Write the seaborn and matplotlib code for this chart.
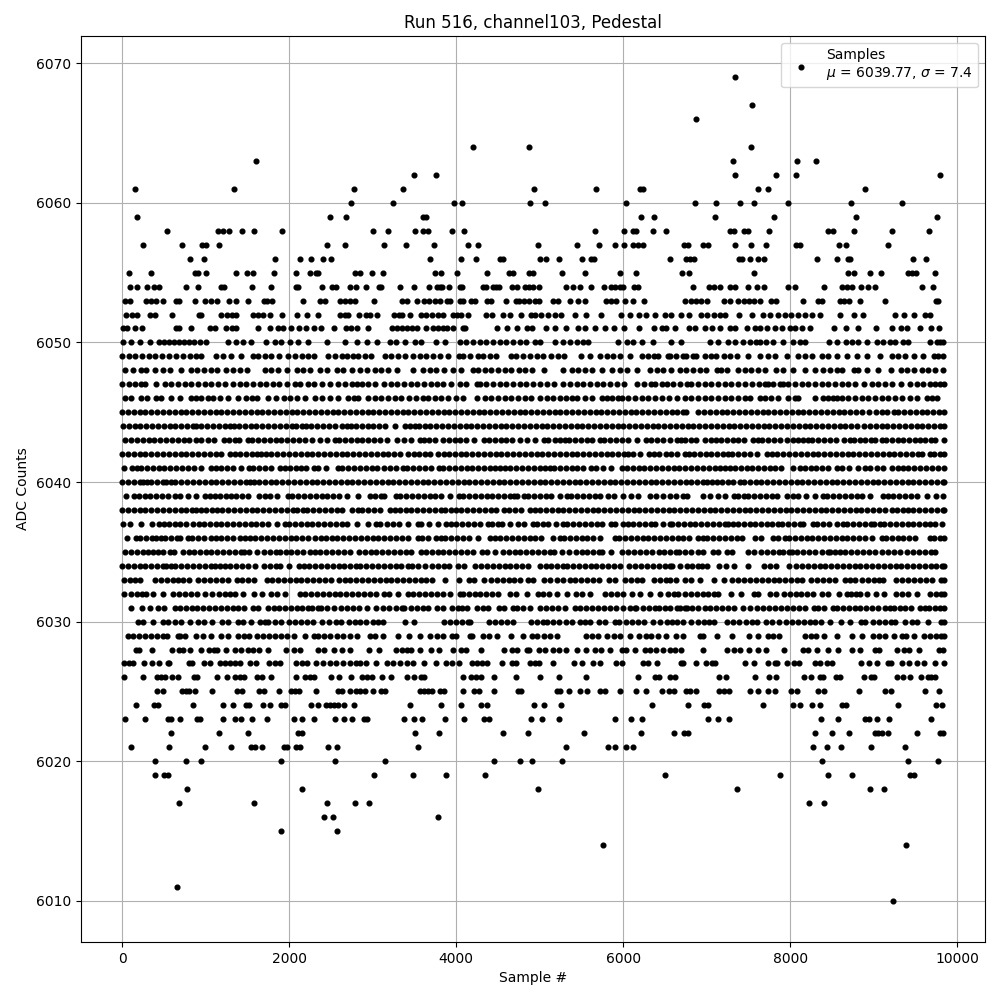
import matplotlib
matplotlib.use("Agg")
import matplotlib.pyplot as plt
import pandas as pd
import seaborn as sns

TITLE = "Run 516, channel103, Pedestal"
XLABEL = "Sample #"
YLABEL = "ADC Counts"
LEGEND = "Samples\n$\\mu$ = 6039.77, $\\sigma$ = 7.4"

# Sample numbers for each ADC level (estimates in the dense rows).
s6069 = [7345]
s6067 = [7548]
s6066 = [6878]
s6064 = [4205, 4877, 7537]
s6063 = [1601, 7321, 8087, 8314]
s6062 = [3497, 3761, 7345, 7836, 8075, 9799]
s6061 = [149, 1345, 2781, 3367, 4935, 5681, 6208, 6240, 7612, 7740, 8901]
s6060 = [2745, 3248, 3978, 4074, 4888, 5059, 6040, 6866, 7117, 7404, 7572, 7979, 8733, 9344]
s6059 = [184, 2493, 2685, 3603, 3635, 6220, 6375, 7105, 7812, 8793, 9763]
s6058 = [543, 1149, 1213, 1277, 1440, 1584, 1919, 3008, 3188, 3511, 3607, 3659, 3955, 4099, 5669, 6016, 6124, 6160, 6363, 6519, 7285, 7333, 7453, 7493, 7752, 8458, 8518, 8769, 9224, 9667]
s6057 = [255, 722, 962, 1010, 1165, 2458, 2674, 3141, 3405, 3740, 4146, 4266, 4983, 5442, 5717, 5909, 6016, 6124, 6184, 6240, 6734, 6774, 6962, 7022, 7341, 7537, 7716, 8071, 8123, 8590, 8674, 9176]
s6056 = [818, 986, 1835, 2134, 2266, 2410, 2506, 3691, 4062, 4242, 4525, 4560, 5007, 5079, 5238, 5513, 5621, 5657, 6567, 6754, 6806, 6854, 7393, 7425, 7517, 7620, 7692, 8326, 8566, 8690, 8722, 9475, 9631]
s6055 = [88, 351, 878, 914, 1010, 1369, 1500, 1572, 1823, 2087, 2254, 2326, 2350, 2793, 2853, 2997, 3127, 3751, 3823, 4014, 4374, 4633, 4681, 4873, 4921, 5274, 5549, 5968, 6160, 6711, 6794, 7572, 8698, 8761, 8961, 9093, 9416, 9464, 9512, 9739]
s6054 = [89, 173, 293, 377, 437, 761, 905, 1181, 1217, 1553, 1781, 2081, 2105, 2393, 2513, 2561, 2729, 2801, 2921, 3077, 3101, 3329, 3497, 3677, 3773, 3809, 3833, 3917, 4049, 4073, 4325, 4361, 4445, 4481, 4517, 4669, 4729, 4829, 4877, 4925, 4997, 5319, 5399, 5479, 5611, 5767, 5851, 5899, 5959, 5999, 6127, 6179, 6835, 7027, 7087, 7159, 7279, 7339, 7495, 7603, 7687, 7975, 8059, 8407, 8623, 8683, 8743, 8851, 8935, 9019, 9583, 9715]
s6053 = [29, 89, 281, 341, 401, 485, 641, 677, 869, 989, 1061, 1133, 1277, 1361, 1505, 1697, 1733, 1793, 2165, 2369, 2429, 2609, 2669, 2729, 2789, 3017, 3353, 3413, 3533, 3617, 3677, 3749, 3809, 3893, 3929, 4049, 4085, 4181, 4229, 4373, 4421, 4601, 4721, 4757, 4809, 4869, 4939, 4997, 5159, 5219, 5359, 5455, 5539, 5791, 5851, 5911, 6019, 6115, 6247, 6747, 6811, 6871, 6931, 7003, 7207, 7279, 7375, 7447, 7507, 7567, 7639, 7771, 7831, 8155, 8335, 8383, 8599, 8647, 8707, 8839, 9139, 9751, 9775]
s6052 = [41, 113, 173, 329, 389, 593, 917, 941, 1181, 1253, 1313, 1361, 1565, 1625, 1685, 1769, 1913, 2093, 2213, 2345, 2609, 2669, 2705, 2837, 2921, 2969, 3053, 3257, 3317, 3353, 3449, 3581, 3641, 3713, 3785, 3845, 3965, 4013, 4061, 4145, 4361, 4433, 4565, 4649, 4781, 4901, 4949, 5019, 5099, 5179, 5259, 5419, 5559, 5739, 5971, 6079, 6187, 6271, 6379, 6499, 6571, 6691, 6787, 6931, 7003, 7087, 7159, 7219, 7387, 7543, 7675, 7759, 7859, 7939, 8011, 8095, 8179, 8259, 8359, 8599, 8763, 8875, 9259, 9367, 9487, 9619, 9679]
s6051 = [9, 57, 149, 233, 641, 677, 821, 1049, 1109, 1241, 1313, 1361, 1625, 1769, 1865, 1925, 2021, 2117, 2201, 2297, 2381, 2537, 2681, 2741, 2813, 2945, 3233, 3293, 3353, 3413, 3473, 3533, 3641, 3725, 3785, 3845, 3893, 3965, 4085, 4109, 4493, 4613, 4733, 4853, 4913, 5071, 5179, 5311, 5455, 5539, 5659, 5779, 5887, 6007, 6191, 6367, 6463, 6511, 6619, 6787, 6859, 6979, 7063, 7159, 7279, 7339, 7483, 7579, 7639, 7723, 7819, 7899, 7999, 8059, 8139, 8239, 8527, 8671, 8815, 9031, 9223, 9331, 9403, 9559, 9691, 9787]
s6050 = [9, 109, 209, 329, 437, 497, 557, 617, 677, 737, 797, 857, 930, 1000, 1269, 1369, 1449, 1549, 1729, 1829, 1909, 2009, 2109, 2229, 2449, 2669, 2809, 2929, 3049, 3203, 3283, 3383, 3503, 3583, 3763, 3863, 4043, 4123, 4203, 4283, 4363, 4443, 4523, 4603, 4683, 4763, 4843, 4943, 5003, 5183, 5283, 5363, 5443, 5523, 5583, 5943, 6043, 6123, 6223, 6363, 6577, 6697, 7037, 7137, 7257, 7337, 7437, 7517, 7597, 7637, 7717, 7797, 7917, 8037, 8117, 8177, 8465, 8565, 8665, 8737, 8817, 8917, 9037, 9117, 9197, 9257, 9357, 9417, 9677, 9757, 9800, 9835]
s6049 = [0, 80, 160, 240, 320, 400, 480, 560, 649, 729, 809, 889, 950, 1129, 1209, 1309, 1421, 1569, 1629, 1709, 1789, 1880, 1989, 2069, 2149, 2229, 2300, 2469, 2549, 2629, 2689, 2769, 2830, 2909, 2980, 3143, 3223, 3303, 3383, 3480, 3563, 3643, 3723, 3803, 3900, 4031, 4083, 4163, 4260, 4323, 4403, 4483, 4663, 4723, 4800, 4883, 4963, 5043, 5140, 5223, 5290, 5495, 5603, 5723, 5803, 5883, 5963, 6080, 6223, 6303, 6370, 6423, 6543, 6557, 6637, 6717, 6757, 6837, 6877, 6977, 7057, 7117, 7205, 7285, 7365, 7500, 7637, 7737, 7817, 7960, 8097, 8177, 8257, 8377, 8457, 8557, 8677, 8797, 8920, 9077, 9220, 9297, 9377, 9480, 9597, 9720, 9777, 9835]
s6048 = [29, 129, 229, 289, 389, 489, 569, 709, 821, 901, 981, 1061, 1141, 1250, 1329, 1409, 1490, 1709, 1789, 1869, 1970, 2089, 2169, 2249, 2370, 2449, 2569, 2649, 2750, 2849, 2929, 3030, 3103, 3183, 3295, 3483, 3603, 3683, 3763, 3850, 3963, 4063, 4203, 4263, 4343, 4423, 4503, 4583, 4663, 4750, 4823, 4910, 5051, 5283, 5390, 5463, 5543, 5630, 5743, 5863, 5963, 6043, 6163, 6323, 6403, 6483, 6570, 6677, 6757, 6837, 6917, 6997, 7120, 7177, 7240, 7377, 7457, 7537, 7617, 7700, 7837, 7917, 8040, 8177, 8297, 8397, 8477, 8557, 8617, 8760, 8817, 8920, 9057, 9209, 9329, 9405, 9485, 9577, 9657, 9737, 9835]
s6047 = [0, 80, 160, 229, 269, 409, 509, 589, 669, 749, 829, 909, 989, 1069, 1149, 1229, 1329, 1410, 1489, 1569, 1649, 1729, 1809, 1880, 1980, 2070, 2129, 2229, 2300, 2389, 2490, 2589, 2669, 2749, 2810, 2869, 2950, 3030, 3135, 3215, 3295, 3375, 3455, 3535, 3615, 3700, 3770, 3843, 3943, 4043, 4123, 4250, 4283, 4363, 4443, 4523, 4603, 4683, 4763, 4843, 4923, 5003, 5090, 5170, 5283, 5363, 5443, 5523, 5603, 5683, 5763, 5843, 5930, 6010, 6163, 6250, 6330, 6383, 6470, 6523, 6597, 6680, 6760, 6817, 6897, 6977, 7057, 7137, 7217, 7297, 7377, 7457, 7540, 7630, 7700, 7737, 7800, 7877, 7917, 7977, 8057, 8137, 8217, 8297, 8377, 8457, 8537, 8617, 8697, 8777, 8890, 8980, 9057, 9137, 9217, 9330, 9440, 9517, 9597, 9680, 9740, 9797, 9840]
s6046 = [29, 109, 229, 300, 409, 469, 589, 690, 829, 890, 949, 1029, 1090, 1169, 1270, 1389, 1489, 1560, 1610, 1749, 1849, 1940, 2010, 2089, 2189, 2309, 2400, 2490, 2589, 2709, 2780, 2830, 2949, 3030, 3103, 3183, 3263, 3343, 3440, 3525, 3603, 3663, 3743, 3823, 3903, 4000, 4085, 4250, 4343, 4423, 4503, 4583, 4663, 4743, 4823, 4903, 5005, 5083, 5163, 5243, 5320, 5385, 5443, 5540, 5625, 5743, 5810, 5865, 5943, 5990, 6063, 6143, 6223, 6303, 6383, 6470, 6545, 6650, 6737, 6817, 6897, 6977, 7057, 7137, 7217, 7297, 7380, 7460, 7520, 7637, 7697, 7777, 7857, 7980, 8057, 8100, 8297, 8397, 8449, 8517, 8560, 8617, 8697, 8777, 8857, 8937, 9017, 9097, 9177, 9257, 9337, 9440, 9520, 9637, 9700, 9760]
s6045 = [0, 70, 140, 210, 280, 350, 420, 490, 560, 630, 700, 770, 840, 910, 980, 1050, 1120, 1190, 1260, 1330, 1400, 1470, 1540, 1610, 1680, 1750, 1820, 1890, 1960, 2030, 2100, 2170, 2240, 2310, 2380, 2450, 2520, 2590, 2660, 2730, 2800, 2870, 2940, 3010, 3080, 3150, 3220, 3290, 3360, 3430, 3500, 3570, 3640, 3710, 3780, 3850, 3920, 3990, 4060, 4130, 4200, 4270, 4340, 4410, 4480, 4550, 4620, 4690, 4760, 4830, 4900, 4970, 5040, 5110, 5180, 5250, 5320, 5390, 5460, 5530, 5600, 5670, 5740, 5810, 5880, 5950, 6020, 6090, 6160, 6230, 6300, 6370, 6440, 6510, 6580, 6650, 6720, 6750, 6900, 6970, 7040, 7110, 7180, 7250, 7320, 7390, 7460, 7530, 7600, 7670, 7740, 7810, 7880, 7950, 8020, 8090, 8160, 8230, 8300, 8370, 8440, 8510, 8580, 8650, 8720, 8790, 8860, 8950, 9030, 9100, 9160, 9240, 9295, 9365, 9435, 9505, 9575, 9645, 9715, 9785, 9842]
s6044 = [9, 79, 149, 219, 289, 359, 429, 499, 569, 639, 709, 779, 849, 880, 949, 1019, 1089, 1159, 1229, 1290, 1345, 1399, 1469, 1539, 1609, 1679, 1749, 1819, 1889, 1959, 2030, 2085, 2149, 2197, 2267, 2337, 2407, 2477, 2550, 2630, 2690, 2745, 2799, 2869, 2939, 3009, 3079, 3149, 3265, 3385, 3445, 3505, 3553, 3623, 3693, 3763, 3833, 3903, 3973, 4043, 4113, 4183, 4253, 4323, 4393, 4463, 4533, 4603, 4673, 4743, 4813, 4883, 4953, 5023, 5093, 5163, 5233, 5303, 5373, 5443, 5513, 5583, 5653, 5723, 5793, 5863, 5933, 6003, 6073, 6143, 6213, 6283, 6353, 6423, 6493, 6563, 6633, 6703, 6773, 6843, 6913, 6983, 7053, 7123, 7193, 7263, 7333, 7403, 7473, 7543, 7613, 7683, 7753, 7823, 7893, 7963, 8033, 8103, 8173, 8243, 8313, 8383, 8453, 8523, 8593, 8663, 8733, 8803, 8885, 8955, 9025, 9095, 9165, 9235, 9305, 9375, 9445, 9515, 9585, 9655, 9725, 9795, 9842]
s6043 = [37, 107, 177, 247, 317, 387, 457, 527, 597, 667, 745, 805, 885, 949, 1029, 1095, 1225, 1279, 1349, 1395, 1505, 1559, 1629, 1699, 1769, 1839, 1909, 1979, 2049, 2119, 2189, 2270, 2375, 2450, 2545, 2599, 2669, 2739, 2809, 2879, 2949, 3019, 3089, 3170, 3290, 3375, 3460, 3570, 3620, 3673, 3743, 3845, 3920, 3983, 4045, 4120, 4220, 4330, 4391, 4463, 4533, 4603, 4673, 4765, 4855, 4950, 5050, 5105, 5183, 5250, 5300, 5353, 5423, 5493, 5563, 5630, 5720, 5773, 5843, 5913, 5983, 6053, 6170, 6280, 6333, 6403, 6473, 6565, 6640, 6690, 6739, 6809, 6879, 6980, 7055, 7107, 7177, 7247, 7320, 7380, 7445, 7560, 7615, 7667, 7737, 7807, 7877, 7960, 8035, 8097, 8160, 8215, 8267, 8337, 8407, 8477, 8547, 8640, 8715, 8767, 8837, 8900, 8965, 9017, 9095, 9147, 9217, 9287, 9357, 9427, 9497, 9560, 9617, 9690, 9730, 9842]
s6042 = [0, 70, 140, 210, 280, 350, 420, 490, 560, 630, 700, 770, 840, 910, 980, 1050, 1120, 1190, 1295, 1347, 1417, 1487, 1557, 1610, 1665, 1719, 1789, 1859, 1929, 1999, 2069, 2139, 2209, 2279, 2349, 2419, 2489, 2559, 2629, 2699, 2769, 2839, 2909, 2979, 3049, 3119, 3189, 3259, 3329, 3425, 3500, 3553, 3623, 3693, 3785, 3860, 3913, 3983, 4053, 4123, 4193, 4263, 4333, 4403, 4473, 4543, 4613, 4683, 4753, 4823, 4893, 4963, 5033, 5103, 5173, 5243, 5313, 5383, 5453, 5523, 5593, 5663, 5733, 5803, 5873, 5943, 6005, 6060, 6113, 6205, 6310, 6365, 6425, 6510, 6570, 6640, 6740, 6795, 6847, 6917, 6987, 7057, 7127, 7200, 7255, 7307, 7377, 7447, 7520, 7605, 7725, 7779, 7849, 7919, 7989, 8059, 8129, 8199, 8269, 8339, 8409, 8479, 8549, 8619, 8689, 8759, 8829, 8899, 8969, 9039, 9109, 9179, 9249, 9319, 9389, 9459, 9529, 9580, 9675, 9727, 9797, 9842]
s6041 = [25, 115, 175, 227, 297, 367, 437, 507, 577, 647, 717, 787, 857, 950, 1065, 1119, 1189, 1259, 1329, 1430, 1520, 1571, 1641, 1711, 1781, 1890, 1955, 2007, 2077, 2147, 2205, 2295, 2347, 2445, 2585, 2639, 2709, 2779, 2849, 2919, 2989, 3050, 3140, 3213, 3285, 3360, 3413, 3483, 3553, 3623, 3705, 3790, 3845, 3915, 3985, 4055, 4125, 4195, 4265, 4335, 4405, 4465, 4530, 4581, 4651, 4721, 4791, 4861, 4931, 5001, 5065, 5120, 5173, 5243, 5313, 5383, 5453, 5523, 5615, 5670, 5765, 5851, 5990, 6045, 6115, 6185, 6255, 6325, 6395, 6465, 6535, 6605, 6675, 6745, 6815, 6885, 6955, 7025, 7095, 7165, 7220, 7285, 7339, 7409, 7479, 7549, 7619, 7689, 7759, 7820, 7895, 8040, 8120, 8175, 8245, 8315, 8385, 8455, 8560, 8620, 8700, 8810, 8895, 8960, 9040, 9110, 9217, 9295, 9347, 9417, 9487, 9557, 9627, 9697, 9767, 9842]
s6040 = [0, 70, 140, 210, 245, 295, 347, 417, 487, 530, 585, 639, 709, 779, 849, 919, 989, 1059, 1129, 1199, 1269, 1339, 1409, 1479, 1530, 1585, 1639, 1709, 1779, 1849, 1919, 1989, 2059, 2129, 2199, 2269, 2339, 2409, 2479, 2549, 2619, 2689, 2759, 2829, 2899, 2969, 3039, 3109, 3179, 3249, 3319, 3389, 3459, 3529, 3599, 3669, 3739, 3809, 3879, 3949, 4019, 4089, 4159, 4229, 4299, 4369, 4439, 4509, 4579, 4649, 4719, 4789, 4859, 4929, 4999, 5069, 5139, 5209, 5279, 5349, 5419, 5489, 5559, 5629, 5699, 5769, 5839, 5909, 5979, 6049, 6119, 6189, 6259, 6329, 6399, 6469, 6539, 6609, 6679, 6749, 6819, 6889, 6959, 7010, 7065, 7119, 7189, 7259, 7320, 7395, 7447, 7517, 7587, 7657, 7727, 7797, 7867, 7937, 8007, 8077, 8147, 8217, 8287, 8357, 8427, 8497, 8567, 8637, 8707, 8777, 8847, 8917, 8987, 9057, 9127, 9197, 9267, 9337, 9407, 9477, 9547, 9617, 9687, 9757, 9827, 9842]
s6039 = [49, 145, 199, 269, 339, 409, 479, 549, 635, 695, 795, 881, 995, 1047, 1117, 1170, 1245, 1299, 1369, 1439, 1510, 1641, 1710, 1775, 1860, 1985, 2039, 2109, 2179, 2249, 2319, 2389, 2459, 2529, 2599, 2690, 2821, 2965, 3029, 3105, 3135, 3280, 3333, 3403, 3473, 3543, 3613, 3683, 3745, 3815, 3931, 4030, 4085, 4155, 4225, 4295, 4365, 4435, 4505, 4575, 4645, 4690, 4735, 4810, 4861, 4931, 5001, 5071, 5141, 5245, 5330, 5381, 5451, 5521, 5591, 5661, 5725, 5815, 5891, 6003, 6095, 6180, 6325, 6391, 6475, 6560, 6629, 6717, 6765, 6955, 7040, 7137, 7225, 7330, 7375, 7445, 7499, 7569, 7639, 7709, 7779, 7849, 7960, 8037, 8097, 8195, 8300, 8395, 8447, 8517, 8587, 8657, 8727, 8797, 8867, 8960, 9115, 9167, 9237, 9307, 9377, 9447, 9517, 9640, 9749, 9835]
s6038 = [0, 70, 140, 210, 280, 350, 420, 490, 560, 630, 700, 770, 840, 890, 945, 1010, 1080, 1131, 1201, 1271, 1341, 1411, 1481, 1551, 1621, 1691, 1761, 1831, 1901, 1971, 2041, 2090, 2165, 2219, 2289, 2359, 2429, 2499, 2569, 2639, 2750, 2825, 2879, 2949, 3019, 3090, 3205, 3270, 3325, 3395, 3465, 3535, 3605, 3675, 3745, 3815, 3865, 3940, 3993, 4063, 4133, 4203, 4273, 4343, 4413, 4483, 4570, 4633, 4703, 4773, 4885, 4950, 5005, 5075, 5145, 5215, 5285, 5355, 5425, 5495, 5565, 5635, 5705, 5775, 5845, 5915, 5985, 6055, 6125, 6195, 6265, 6335, 6405, 6475, 6545, 6615, 6685, 6755, 6825, 6895, 6965, 7035, 7105, 7175, 7245, 7315, 7385, 7455, 7525, 7595, 7665, 7735, 7805, 7875, 7945, 8015, 8085, 8155, 8225, 8295, 8365, 8435, 8505, 8575, 8645, 8715, 8785, 8855, 8925, 8995, 9065, 9135, 9220, 9277, 9355, 9407, 9477, 9547, 9617, 9687, 9757, 9827, 9842]
s6037 = [16, 95, 225, 355, 437, 505, 559, 629, 699, 769, 850, 925, 979, 1049, 1119, 1189, 1259, 1329, 1399, 1469, 1539, 1609, 1679, 1749, 1850, 1945, 1999, 2069, 2139, 2209, 2279, 2349, 2419, 2489, 2559, 2629, 2699, 2810, 2941, 3037, 3090, 3173, 3243, 3313, 3425, 3540, 3585, 3680, 3785, 3880, 3933, 4003, 4073, 4143, 4213, 4285, 4380, 4433, 4503, 4545, 4640, 4745, 4815, 4920, 4965, 5043, 5100, 5195, 5280, 5333, 5403, 5473, 5543, 5613, 5683, 5745, 5860, 5905, 6000, 6053, 6123, 6193, 6263, 6333, 6385, 6480, 6565, 6587, 6657, 6727, 6797, 6867, 6937, 7007, 7077, 7147, 7217, 7260, 7320, 7375, 7445, 7515, 7585, 7655, 7725, 7780, 7855, 7907, 7977, 8047, 8117, 8160, 8275, 8327, 8397, 8467, 8560, 8635, 8687, 8757, 8827, 8900, 8970, 9000, 9075, 9127, 9197, 9267, 9337, 9407, 9477, 9547, 9617, 9680, 9737, 9825]
s6036 = [57, 165, 219, 289, 359, 405, 465, 519, 589, 659, 695, 785, 839, 909, 979, 1065, 1119, 1189, 1259, 1329, 1410, 1475, 1527, 1597, 1667, 1737, 1807, 1877, 1947, 2017, 2087, 2157, 2227, 2310, 2385, 2439, 2509, 2579, 2649, 2719, 2789, 2859, 2929, 2999, 3069, 3139, 3209, 3279, 3349, 3425, 3540, 3593, 3663, 3765, 3820, 3873, 3943, 4013, 4083, 4153, 4265, 4405, 4461, 4531, 4601, 4671, 4741, 4811, 4881, 4945, 5020, 5165, 5240, 5293, 5363, 5433, 5503, 5573, 5643, 5725, 5900, 5953, 6023, 6093, 6163, 6233, 6303, 6373, 6443, 6513, 6583, 6653, 6723, 6793, 6900, 6955, 7007, 7077, 7147, 7217, 7287, 7360, 7420, 7580, 7655, 7800, 7857, 7935, 7987, 8057, 8127, 8197, 8267, 8337, 8407, 8477, 8547, 8617, 8687, 8757, 8827, 8897, 8980, 9095, 9147, 9217, 9287, 9357, 9427, 9500, 9675, 9727, 9797, 9840]
s6035 = [30, 105, 175, 245, 315, 365, 435, 485, 575, 625, 735, 805, 859, 929, 999, 1069, 1139, 1209, 1279, 1349, 1420, 1460, 1517, 1612, 1705, 1775, 1845, 1893, 1957, 2027, 2097, 2167, 2253, 2305, 2375, 2445, 2515, 2585, 2655, 2725, 2833, 2905, 2975, 3045, 3115, 3185, 3255, 3325, 3400, 3460, 3585, 3640, 3710, 3780, 3847, 3920, 3990, 4060, 4127, 4200, 4305, 4368, 4467, 4560, 4630, 4700, 4770, 4840, 4910, 4980, 5050, 5120, 5167, 5263, 5355, 5432, 5502, 5572, 5642, 5712, 5747, 5855, 5992, 6062, 6132, 6202, 6272, 6342, 6427, 6492, 6567, 6633, 6675, 6745, 6815, 6900, 6955, 7080, 7135, 7240, 7302, 7500, 7565, 7655, 7725, 7795, 7865, 7920, 7982, 8020, 8086, 8156, 8226, 8296, 8380, 8455, 8480, 8542, 8600, 8662, 8732, 8802, 8872, 8942, 9012, 9100, 9175, 9245, 9315, 9400, 9475, 9545, 9615, 9685, 9740]
s6034 = [0, 70, 140, 210, 280, 350, 420, 490, 525, 585, 639, 709, 779, 849, 919, 989, 1059, 1112, 1173, 1227, 1297, 1367, 1437, 1507, 1590, 1705, 1775, 1845, 1893, 1993, 2113, 2173, 2243, 2313, 2383, 2453, 2523, 2593, 2663, 2733, 2800, 2853, 2925, 2995, 3065, 3135, 3205, 3275, 3345, 3425, 3472, 3547, 3623, 3711, 3781, 3851, 3921, 4027, 4100, 4227, 4300, 4367, 4440, 4510, 4580, 4650, 4720, 4790, 4860, 4999, 5072, 5142, 5212, 5282, 5327, 5400, 5470, 5540, 5610, 5680, 5750, 5820, 5890, 5960, 6067, 6148, 6218, 6288, 6358, 6428, 6498, 6567, 6590, 6685, 6761, 6829, 6893, 6941, 7005, 7149, 7229, 7333, 7501, 7693, 7763, 7833, 7981, 8073, 8143, 8213, 8283, 8353, 8423, 8493, 8563, 8633, 8703, 8773, 8843, 8913, 8983, 9053, 9123, 9193, 9263, 9333, 9403, 9473, 9543, 9613, 9683, 9753, 9823, 9842]
s6033 = [25, 93, 153, 213, 393, 465, 535, 605, 675, 733, 797, 913, 985, 1055, 1125, 1195, 1265, 1373, 1437, 1513, 1585, 1733, 1797, 1867, 1937, 2007, 2077, 2147, 2217, 2287, 2357, 2427, 2497, 2593, 2665, 2735, 2805, 2875, 2945, 3015, 3085, 3155, 3225, 3295, 3365, 3435, 3505, 3575, 3645, 3715, 3867, 4031, 4151, 4220, 4335, 4419, 4489, 4559, 4629, 4699, 4769, 4867, 4923, 5047, 5127, 5211, 5283, 5359, 5429, 5499, 5569, 5639, 5715, 5827, 5907, 6027, 6097, 6167, 6227, 6371, 6441, 6511, 6565, 6635, 6741, 6817, 6917, 7085, 7205, 7301, 7373, 7453, 7523, 7593, 7663, 7733, 7803, 7873, 7943, 8013, 8083, 8141, 8249, 8325, 8395, 8465, 8533, 8653, 8723, 8781, 8865, 8935, 9005, 9061, 9117, 9273, 9343, 9413, 9483, 9553, 9623, 9701, 9813, 9842]
s6032 = [25, 105, 173, 237, 289, 373, 493, 613, 683, 753, 823, 893, 993, 1077, 1157, 1227, 1297, 1353, 1449, 1585, 1673, 1785, 1855, 1953, 2125, 2195, 2265, 2335, 2405, 2475, 2545, 2615, 2685, 2755, 2825, 2895, 2965, 3035, 3131, 3201, 3307, 3419, 3489, 3559, 3629, 3699, 3769, 3839, 3927, 4043, 4083, 4151, 4221, 4291, 4361, 4431, 4507, 4643, 4719, 4847, 4979, 5040, 5107, 5203, 5323, 5439, 5507, 5603, 5783, 5859, 5929, 5999, 6107, 6199, 6327, 6443, 6535, 6613, 6661, 6741, 6811, 6881, 6951, 7021, 7091, 7141, 7293, 7413, 7565, 7621, 7765, 7829, 7925, 7995, 8065, 8135, 8205, 8275, 8381, 8457, 8585, 8681, 8733, 8793, 8841, 8917, 9033, 9121, 9273, 9343, 9413, 9521, 9673, 9743, 9813, 9842]
s6031 = [105, 233, 329, 429, 505, 633, 693, 763, 833, 903, 973, 1043, 1113, 1183, 1253, 1323, 1393, 1463, 1573, 1625, 1745, 1815, 1885, 1955, 2025, 2095, 2153, 2225, 2273, 2345, 2381, 2453, 2533, 2625, 2695, 2765, 2835, 2933, 3037, 3125, 3200, 3279, 3351, 3375, 3459, 3529, 3599, 3669, 3767, 3847, 3947, 4019, 4067, 4127, 4247, 4319, 4387, 4519, 4575, 4679, 4735, 4807, 4880, 4999, 5079, 5150, 5220, 5307, 5419, 5489, 5559, 5629, 5699, 5767, 5847, 5920, 6000, 6087, 6139, 6159, 6239, 6310, 6380, 6427, 6499, 6567, 6640, 6681, 6741, 6761, 6821, 6900, 6981, 7045, 7115, 7185, 7261, 7333, 7441, 7525, 7600, 7681, 7753, 7823, 7893, 7963, 8033, 8103, 8173, 8281, 8333, 8401, 8513, 8561, 8633, 8703, 8773, 8843, 8913, 8983, 9053, 9141, 9193, 9241, 9321, 9381, 9450, 9561, 9613, 9661, 9733, 9800, 9842]
s6030 = [185, 255, 373, 485, 553, 637, 705, 813, 905, 975, 1073, 1197, 1267, 1393, 1449, 1545, 1653, 1717, 1753, 1837, 1905, 1993, 2073, 2143, 2213, 2283, 2393, 2477, 2557, 2627, 2713, 2785, 2855, 2925, 3005, 3069, 3119, 3391, 3491, 3859, 3929, 3999, 4067, 4139, 4167, 4399, 4469, 4539, 4609, 4687, 4899, 4969, 5039, 5087, 5159, 5227, 5319, 5389, 5487, 5539, 5609, 5707, 5783, 5899, 5947, 6039, 6109, 6179, 6247, 6359, 6439, 6523, 6581, 6651, 6721, 6813, 6893, 6963, 7033, 7093, 7245, 7315, 7389, 7473, 7543, 7601, 7717, 7789, 7869, 7953, 8023, 8093, 8163, 8233, 8303, 8373, 8481, 8613, 8721, 8853, 8901, 8993, 9063, 9133, 9203, 9261, 9373, 9461, 9517, 9657, 9805, 9842]
s6029 = [65, 135, 205, 275, 345, 415, 485, 541, 665, 693, 757, 885, 973, 1069, 1185, 1273, 1385, 1455, 1525, 1613, 1689, 1765, 1835, 1905, 1975, 2053, 2185, 2293, 2345, 2415, 2485, 2573, 2645, 2730, 2813, 2965, 3033, 3129, 3305, 3433, 3569, 3689, 3769, 3849, 3945, 3993, 4165, 4193, 4325, 4400, 4493, 4661, 4801, 4905, 4973, 5055, 5130, 5203, 5555, 5630, 5700, 5803, 5895, 5963, 6079, 6195, 6270, 6340, 6423, 6519, 6635, 6723, 6915, 6955, 7123, 7303, 7507, 7619, 7735, 7800, 7863, 8175, 8245, 8315, 8403, 8563, 8747, 8863, 8995, 9065, 9135, 9243, 9335, 9383, 9483, 9603, 9673, 9743, 9813, 9842]
s6028 = [165, 205, 357, 597, 681, 729, 813, 949, 1045, 1100, 1141, 1245, 1353, 1425, 1513, 1569, 1645, 1753, 1965, 2053, 2129, 2345, 2421, 2537, 2637, 2733, 2957, 3077, 3285, 3353, 3413, 3461, 3573, 3705, 3793, 3965, 4053, 4121, 4301, 4569, 4665, 4733, 4845, 4873, 4997, 5067, 5159, 5227, 5311, 5443, 5551, 5659, 5739, 5839, 5987, 6039, 6139, 6259, 6319, 6399, 6479, 6559, 6619, 6699, 6955, 7243, 7327, 7399, 7507, 7619, 7711, 7927, 8159, 8219, 8323, 8455, 8575, 8743, 8839, 9019, 9067, 9283, 9359, 9419, 9539, 9779, 9827]
s6027 = [25, 85, 133, 257, 353, 437, 545, 565, 805, 833, 985, 1053, 1173, 1233, 1293, 1353, 1413, 1533, 1609, 1765, 1829, 1893, 2085, 2149, 2213, 2325, 2405, 2485, 2565, 2645, 2725, 2805, 2853, 2925, 3045, 3169, 3249, 3329, 3409, 3489, 3617, 3761, 3885, 3949, 4033, 4185, 4249, 4313, 4373, 4549, 4665, 4713, 4885, 4949, 4993, 5159, 5407, 5503, 5635, 5719, 5915, 5983, 6235, 6299, 6403, 6695, 6723, 6871, 6995, 7059, 7103, 7459, 7567, 7735, 7819, 7843, 7963, 8043, 8103, 8295, 8359, 8439, 8503, 8855, 8939, 9043, 9175, 9203, 9335, 9419, 9519, 9603, 9739, 9842]
s6026 = [28, 255, 423, 471, 519, 603, 675, 866, 902, 1141, 1261, 1357, 1417, 1465, 1620, 1680, 1788, 2087, 2194, 2254, 2302, 2506, 2602, 2746, 2878, 2938, 2998, 3118, 3226, 3417, 3501, 3585, 3621, 4087, 4183, 4243, 4303, 4459, 4723, 4999, 5238, 5561, 6184, 6387, 6435, 6567, 6627, 7153, 7237, 7584, 7752, 7836, 8171, 8255, 8363, 8399, 8554, 8602, 8889, 8973, 9009, 9284, 9356, 9440, 9572, 9656, 9692, 9740]
s6025 = [423, 495, 722, 770, 806, 878, 1081, 1381, 1441, 1644, 1704, 1884, 2028, 2076, 2124, 2326, 2590, 2638, 2734, 2806, 2854, 2914, 3010, 3106, 3154, 3573, 3621, 3669, 3717, 3813, 3861, 4087, 4219, 4279, 4459, 4747, 4783, 5214, 5250, 5358, 5478, 5562, 5729, 5789, 5968, 6160, 6280, 6471, 6555, 6615, 6759, 6807, 6878, 7153, 7213, 7273, 7524, 7620, 7740, 7824, 8015, 8087, 8338, 8410, 8830, 9141, 9213, 9620, 9787]
s6024 = [171, 387, 435, 854, 1209, 1333, 1488, 1524, 1692, 1776, 1907, 1955, 2266, 2350, 2446, 2494, 2542, 2590, 2662, 2782, 3451, 3823, 4062, 4301, 4374, 4927, 5047, 5262, 6351, 6782, 6974, 7022, 7680, 8039, 8123, 8267, 8363, 8626, 8674, 9296, 9752, 9824]
s6023 = [40, 279, 555, 590, 698, 902, 938, 1213, 1357, 1428, 1560, 1740, 2063, 2159, 2302, 2554, 2662, 2758, 2902, 2938, 3379, 3499, 3595, 3870, 4098, 4338, 4399, 4899, 5023, 5238, 5909, 6100, 6232, 7022, 7142, 7273, 8374, 8578, 8901, 8949, 9045, 9189, 9691]
s6022 = [590, 1165, 1512, 2111, 2159, 3511, 3799, 4565, 4864, 5537, 6220, 6615, 6734, 6782, 8302, 8506, 8710, 9021, 9057, 9105, 9177, 9524, 9799, 9835]
s6021 = [112, 567, 998, 1309, 1548, 1596, 1680, 1943, 1979, 2087, 2135, 2470, 2578, 3547, 5322, 5825, 5909, 6040, 6124, 8279, 8446, 8614, 8973, 9380]
s6020 = [399, 770, 950, 1907, 2554, 3152, 4457, 4769, 4913, 5274, 8386, 9416, 9775]
s6019 = [399, 507, 555, 3020, 3487, 3882, 4349, 6507, 7884, 8458, 8746, 9440, 9488]
s6018 = [782, 2158, 4983, 7369, 8961, 9129]
s6017 = [686, 1584, 2458, 2793, 2961, 8231, 8411]
s6016 = [2422, 2522, 3787]
s6015 = [1907, 2578]
s6014 = [5765, 9392]
s6011 = [662]
s6010 = [9236]

levels = {
    6069: s6069, 6067: s6067, 6066: s6066, 6064: s6064, 6063: s6063, 6062: s6062, 6061: s6061,
    6060: s6060, 6059: s6059, 6058: s6058, 6057: s6057, 6056: s6056, 6055: s6055, 6054: s6054,
    6053: s6053, 6052: s6052, 6051: s6051, 6050: s6050, 6049: s6049, 6048: s6048, 6047: s6047,
    6046: s6046, 6045: s6045, 6044: s6044, 6043: s6043, 6042: s6042, 6041: s6041, 6040: s6040,
    6039: s6039, 6038: s6038, 6037: s6037, 6036: s6036, 6035: s6035, 6034: s6034, 6033: s6033,
    6032: s6032, 6031: s6031, 6030: s6030, 6029: s6029, 6028: s6028, 6027: s6027, 6026: s6026,
    6025: s6025, 6024: s6024, 6023: s6023, 6022: s6022, 6021: s6021, 6020: s6020, 6019: s6019,
    6018: s6018, 6017: s6017, 6016: s6016, 6015: s6015, 6014: s6014, 6011: s6011, 6010: s6010,
}

df = pd.DataFrame(
    [(x, adc) for adc, xs in levels.items() for x in xs],
    columns=["sample", "adc"],
)

fig, ax = plt.subplots(figsize=(10, 10), dpi=100)
sns.scatterplot(
    data=df, x="sample", y="adc", ax=ax, color="black", marker=".", s=46,
    linewidth=1, edgecolor="black", zorder=2, label=LEGEND,
)
ax.grid(True)
ax.set_title(TITLE)
ax.set_xlabel(XLABEL)
ax.set_ylabel(YLABEL)
ax.legend(loc="upper right", scatterpoints=1)
fig.subplots_adjust(left=0.081, right=0.985, top=0.964, bottom=0.058)
fig.savefig("out.png", dpi=100)
